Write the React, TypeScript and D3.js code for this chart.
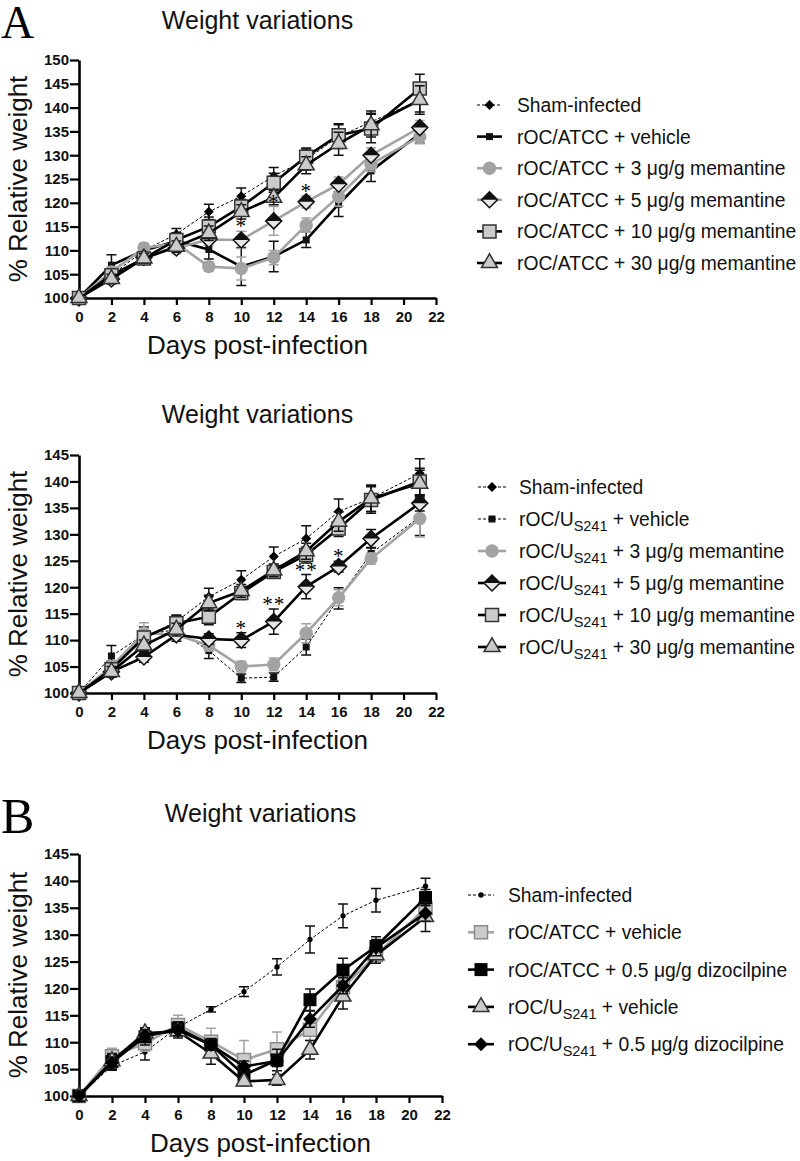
import React, { useEffect, useRef } from 'react';
import * as d3 from 'd3';

// days post-infection
const DAYS = [0, 2, 4, 6, 8, 10, 12, 14, 16, 18, 21];
const X_TICKS = [0, 2, 4, 6, 8, 10, 12, 14, 16, 18, 20, 22];
const Y_TICKS_150 = [100, 105, 110, 115, 120, 125, 130, 135, 140, 145, 150];
const Y_TICKS_145 = [100, 105, 110, 115, 120, 125, 130, 135, 140, 145];

// ---- panel A, rOC/ATCC ----
const a1Labels = [
  'Sham-infected',
  'rOC/ATCC + vehicle',
  'rOC/ATCC + 3 μg/g memantine',
  'rOC/ATCC + 5 μg/g memantine',
  'rOC/ATCC + 10 μg/g memantine',
  'rOC/ATCC + 30 μg/g memantine',
];
const a1Sham = [100, 104.8, 110, 113.4, 118.1, 121.4, 125.6, 129.1, 133.9, 137, 141.6];
const a1ShamErr = [0, 1, 0.8, 1.2, 1.6, 1.7, 1.8, 2.2, 2.5, 2.3, 2.5];
const a1Vehicle = [100, 106.9, 110, 112, 110.2, 106.6, 108.7, 112.2, 119.7, 126.7, 134.5];
const a1VehicleErr = [0, 2.2, 1, 1.5, 2, 4, 3.2, 1.6, 2.6, 2.2, 2];
const a1Mem3 = [100, 105.5, 110.5, 111.5, 106.6, 106.2, 108.5, 115.3, 121.3, 128.1, 133.9];
const a1Mem3Err = [0, 1, 1, 1.2, 1, 2.4, 1.5, 1.5, 2, 1.5, 1.5];
const a1Mem5 = [100, 104, 108.5, 110.5, 112.3, 112.2, 116.2, 120.2, 123.9, 130, 135.8];
const a1Mem5Err = [0, 1, 1, 1.2, 1.2, 1.8, 3, 1.3, 1.5, 1.5, 1.5];
const a1Mem10 = [100, 104.8, 108.3, 112.2, 115, 119.2, 124.2, 129.7, 134.2, 135.6, 144];
const a1Mem10Err = [0, 1, 1, 1.5, 2, 1.5, 2, 1.8, 2.4, 3, 3];
const a1Mem30 = [100, 104, 108.3, 110.8, 113.6, 118.1, 121.1, 127.9, 132.4, 136.3, 141.6];
const a1Mem30Err = [0, 1, 1, 1.2, 1.5, 1.5, 1.5, 1.8, 2.4, 2.5, 3];
const a1StarDays = [10, 12, 14];
const a1StarText = ['*', '*', '*'];

// ---- panel A, rOC/US241 ----
const a2Labels = [
  'Sham-infected',
  'rOC/U_S241 + vehicle',
  'rOC/U_S241 + 3 μg/g memantine',
  'rOC/U_S241 + 5 μg/g memantine',
  'rOC/U_S241 + 10 μg/g memantine',
  'rOC/U_S241 + 30 μg/g memantine',
];
const a2Sham = [100, 105, 110.5, 113.5, 118.2, 121.4, 125.8, 129.2, 134.3, 136.8, 141.5];
const a2ShamErr = [0, 1, 1, 1.2, 1.6, 1.7, 1.8, 2.4, 2.4, 2.5, 2.8];
const a2Vehicle = [100, 107, 111, 112, 108, 102.8, 103, 108.7, 117.9, 126.4, 133.3];
const a2VehicleErr = [0, 2, 1.5, 1.2, 1.5, 0.8, 0.8, 1.5, 2, 1, 3.5];
const a2Mem3 = [100, 105, 111.3, 111, 109, 105, 105.4, 111.3, 118, 125.4, 133];
const a2Mem3Err = [0, 1, 2, 1.2, 1, 1, 1.2, 1.8, 1.5, 1, 3.5];
const a2Mem5 = [100, 104, 106.8, 111, 110.2, 110, 113.5, 120.1, 123.9, 129.2, 135.9];
const a2Mem5Err = [0, 1, 1, 1.2, 1, 1.4, 2.4, 2.3, 1, 1.7, 1.5];
const a2Mem10 = [100, 104.5, 110.5, 113.2, 114.4, 118.9, 122.9, 126.1, 131.1, 136.5, 140];
const a2Mem10Err = [0, 1, 1, 1.5, 1.5, 1.2, 1.2, 1.5, 1.5, 2.5, 2.5];
const a2Mem30 = [100, 104, 109, 112, 117, 119.3, 123.2, 126.8, 132.4, 136.8, 139.6];
const a2Mem30Err = [0, 1, 1, 1.2, 1.5, 1.2, 1.2, 1.5, 1.8, 2.5, 2.5];
const a2StarDays = [10, 12, 14, 16];
const a2StarText = ['*', '**', '**', '*'];

// ---- panel B, dizocilpine ----
const bLabels = [
  'Sham-infected',
  'rOC/ATCC + vehicle',
  'rOC/ATCC + 0.5 μg/g dizocilpine',
  'rOC/U_S241 + vehicle',
  'rOC/U_S241 + 0.5 μg/g dizocilpine',
];
const bSham = [100, 105.6, 108.2, 112.8, 116.1, 119.4, 124, 129.1, 133.5, 136.4, 139];
const bShamErr = [0, 0.8, 1.5, 0.8, 0.5, 0.9, 1.5, 2.5, 2.2, 2.2, 1.5];
const bAtccVeh = [100, 107.4, 109.8, 113.2, 110.1, 106.7, 108.7, 112.3, 120.2, 126.2, 134.9];
const bAtccVehErr = [0, 1.5, 1.5, 1.8, 2.5, 3.6, 3.2, 2, 1.5, 1.5, 2];
const bAtccDizo = [100, 106.4, 111, 112.6, 109.5, 103.9, 106.7, 117.9, 123.4, 127.8, 136.9];
const bAtccDizoErr = [0, 1.5, 1.5, 1.2, 1.2, 1, 2, 2, 2.2, 1.8, 1.5];
const bUVeh = [100, 106.5, 111.7, 112, 107.9, 102.7, 103, 108.6, 118.5, 126.2, 133.3];
const bUVehErr = [0, 1.2, 1, 1.2, 2, 0.8, 1, 1.7, 2.3, 1.5, 2.7];
const bUDizo = [100, 106.2, 111.3, 112.2, 109.5, 105.5, 106.5, 114.3, 120.5, 127.6, 134];
const bUDizoErr = [0, 1, 1, 1, 1, 1, 1, 1.5, 1.5, 1.5, 1.5];

const GREY = '#a3a3a3';
const LIGHT = '#cbcbcb';
const SANS = '"Liberation Sans", Arial, sans-serif';
const SERIF = '"Liberation Serif", "Times New Roman", serif';

type Mk = 'dia-s' | 'sq-s' | 'circle' | 'half-dia' | 'square' | 'square-g' | 'triangle' | 'dot' | 'diamond' | 'sq-b';
type Ln = 'dash' | 'black' | 'grey';
interface Series { label: string; values: number[]; err: number[]; line: Ln; marker: Mk; }

const mk = (label: string, values: number[], err: number[], line: Ln, marker: Mk): Series =>
  ({ label, values, err, line, marker });

const PANELS = [
  {
    letter: 'A', letterSize: 46, letterY: 38, titleY: 29,
    top: 60, bottom: 298, left: 79, right: 436, yTicks: Y_TICKS_150,
    series: [
      mk(a1Labels[0], a1Sham, a1ShamErr, 'dash', 'dia-s'),
      mk(a1Labels[1], a1Vehicle, a1VehicleErr, 'black', 'sq-s'),
      mk(a1Labels[2], a1Mem3, a1Mem3Err, 'grey', 'circle'),
      mk(a1Labels[3], a1Mem5, a1Mem5Err, 'grey', 'half-dia'),
      mk(a1Labels[4], a1Mem10, a1Mem10Err, 'black', 'square'),
      mk(a1Labels[5], a1Mem30, a1Mem30Err, 'black', 'triangle'),
    ],
    starSeries: 3, starDays: a1StarDays, starText: a1StarText,
    legend: { y0: 105, step: 31.6, x0: 477, x1: 502, tx: 517 },
  },
  {
    letter: '', letterSize: 46, letterY: 0, titleY: 423,
    top: 455, bottom: 693, left: 79, right: 436, yTicks: Y_TICKS_145,
    series: [
      mk(a2Labels[0], a2Sham, a2ShamErr, 'dash', 'dia-s'),
      mk(a2Labels[1], a2Vehicle, a2VehicleErr, 'dash', 'sq-s'),
      mk(a2Labels[2], a2Mem3, a2Mem3Err, 'grey', 'circle'),
      mk(a2Labels[3], a2Mem5, a2Mem5Err, 'black', 'half-dia'),
      mk(a2Labels[4], a2Mem10, a2Mem10Err, 'black', 'square'),
      mk(a2Labels[5], a2Mem30, a2Mem30Err, 'black', 'triangle'),
    ],
    starSeries: 3, starDays: a2StarDays, starText: a2StarText,
    legend: { y0: 487, step: 32, x0: 478, x1: 506, tx: 519 },
  },
  {
    letter: 'B', letterSize: 50, letterY: 833, titleY: 822,
    top: 854, bottom: 1096, left: 79, right: 442, yTicks: Y_TICKS_145,
    series: [
      mk(bLabels[0], bSham, bShamErr, 'dash', 'dot'),
      mk(bLabels[1], bAtccVeh, bAtccVehErr, 'grey', 'square-g'),
      mk(bLabels[2], bAtccDizo, bAtccDizoErr, 'black', 'sq-b'),
      mk(bLabels[3], bUVeh, bUVehErr, 'black', 'triangle'),
      mk(bLabels[4], bUDizo, bUDizoErr, 'black', 'diamond'),
    ],
    starSeries: -1, starDays: [] as number[], starText: [] as string[],
    legend: { y0: 895, step: 37.3, x0: 468, x1: 494, tx: 508 },
  },
];

function drawMarker(g: any, m: Mk, cx: number, cy: number) {
  const dia = (r: number) => `M${cx},${cy - r}L${cx + r},${cy}L${cx},${cy + r}L${cx - r},${cy}Z`;
  const sym = (type: any, size: number) =>
    g.append('path').attr('d', d3.symbol().type(type).size(size)()).attr('transform', `translate(${cx},${cy})`);
  switch (m) {
    case 'dia-s':
      g.append('path').attr('d', dia(5)).attr('fill', '#000');
      break;
    case 'sq-s':
      sym(d3.symbolSquare, 49).attr('fill', '#111');
      break;
    case 'circle':
      sym(d3.symbolCircle, 140).attr('fill', GREY);
      break;
    case 'half-dia': {
      const r = 8;
      g.append('path').attr('d', dia(r)).attr('fill', '#e6e6e6').attr('stroke', '#111').attr('stroke-width', 1.5);
      g.append('path').attr('d', `M${cx - r},${cy}L${cx},${cy - r}L${cx + r},${cy}Z`).attr('fill', '#111');
      break;
    }
    case 'square':
      sym(d3.symbolSquare, 169).attr('fill', LIGHT).attr('stroke', '#333').attr('stroke-width', 1.5);
      break;
    case 'square-g':
      sym(d3.symbolSquare, 169).attr('fill', LIGHT).attr('stroke', '#8a8a8a').attr('stroke-width', 1.5);
      break;
    case 'triangle':
      sym(d3.symbolTriangle, 110).attr('fill', LIGHT).attr('stroke', '#333').attr('stroke-width', 1.5);
      break;
    case 'dot':
      sym(d3.symbolCircle, 22).attr('fill', '#000');
      break;
    case 'diamond':
      g.append('path').attr('d', dia(7)).attr('fill', '#000');
      break;
    case 'sq-b':
      sym(d3.symbolSquare, 169).attr('fill', '#000');
      break;
  }
}

function styleLine(sel: any, ln: Ln) {
  if (ln === 'dash') sel.attr('stroke', '#000').attr('stroke-width', 1).attr('stroke-dasharray', '3,2');
  else if (ln === 'grey') sel.attr('stroke', GREY).attr('stroke-width', 2.6);
  else sel.attr('stroke', '#000').attr('stroke-width', 2.6);
  return sel;
}

function writeLabel(t: any, label: string) {
  const parts = label.split('_S241');
  t.append('tspan').text(parts[0]);
  if (parts.length > 1) {
    t.append('tspan').attr('font-size', 14.5).attr('dy', 5).text('S241');
    t.append('tspan').attr('dy', -5).text(parts[1]);
  }
}

function drawPanel(svg: any, p: typeof PANELS[number]) {
  const x = d3.scaleLinear().domain([0, 22]).range([p.left, p.right]);
  const yMax = p.yTicks[p.yTicks.length - 1];
  const y = d3.scaleLinear().domain([100, yMax]).range([p.bottom, p.top]);
  const g = svg.append('g');

  if (p.letter) {
    g.append('text').attr('x', 1).attr('y', p.letterY).attr('font-family', SERIF)
      .attr('font-size', p.letterSize).attr('fill', '#000').text(p.letter);
  }
  const cx = (p.left + p.right) / 2;
  g.append('text').attr('x', cx).attr('y', p.titleY).attr('text-anchor', 'middle')
    .attr('font-family', SANS).attr('font-size', 25).attr('fill', '#111').text('Weight variations');

  // axes
  const yAx = g.append('g').attr('transform', `translate(${p.left},0)`)
    .call(d3.axisLeft(y).tickValues(p.yTicks).tickSize(9).tickSizeOuter(0).tickPadding(1).tickFormat(d3.format('d')));
  const xAx = g.append('g').attr('transform', `translate(0,${p.bottom})`)
    .call(d3.axisBottom(x).tickValues(X_TICKS).tickSize(7).tickSizeOuter(0).tickPadding(6).tickFormat(d3.format('d')));
  [yAx, xAx].forEach((a: any) => {
    a.attr('font-family', SANS).attr('font-size', 15).attr('font-weight', 'bold');
    a.select('.domain').attr('stroke', '#000').attr('stroke-width', 2.6);
    a.selectAll('.tick line').attr('stroke', '#000').attr('stroke-width', 2.2);
    a.selectAll('.tick text').attr('fill', '#111');
  });

  g.append('text').attr('transform', `translate(27,${(p.top + p.bottom) / 2}) rotate(-90)`)
    .attr('text-anchor', 'middle').attr('font-family', SANS).attr('font-size', 26).attr('fill', '#111')
    .text('% Relative weight');
  g.append('text').attr('x', cx).attr('y', p.bottom + 56).attr('text-anchor', 'middle')
    .attr('font-family', SANS).attr('font-size', 26).attr('fill', '#111').text('Days post-infection');

  // series
  const line = d3.line<number>().x((_, i) => x(DAYS[i])).y((v) => y(v));
  p.series.forEach((s) => {
    const sg = g.append('g');
    styleLine(sg.append('path').attr('d', line(s.values)).attr('fill', 'none').attr('stroke-linejoin', 'round'), s.line);
    const ec = s.line === 'grey' ? GREY : '#111';
    s.values.forEach((v, i) => {
      const e = s.err[i];
      if (!e) return;
      const px = x(DAYS[i]);
      sg.append('path')
        .attr('d', `M${px},${y(v - e)}V${y(v + e)}M${px - 5},${y(v + e)}H${px + 5}M${px - 5},${y(v - e)}H${px + 5}`)
        .attr('stroke', ec).attr('stroke-width', 1.5).attr('fill', 'none');
    });
    s.values.forEach((v, i) => drawMarker(sg, s.marker, x(DAYS[i]), y(v)));
  });

  // significance stars
  if (p.starSeries >= 0) {
    const s = p.series[p.starSeries];
    p.starDays.forEach((d, k) => {
      const i = DAYS.indexOf(d);
      const top = y(s.values[i] + s.err[i]);
      g.append('text').attr('x', x(d)).attr('y', top + 2).attr('text-anchor', 'middle')
        .attr('font-family', SERIF).attr('font-size', 21).attr('fill', '#000')
        .attr('letter-spacing', 1).text(p.starText[k]);
    });
  }

  // legend
  const L = p.legend;
  p.series.forEach((s, i) => {
    const ly = L.y0 + i * L.step;
    const lg = g.append('g');
    styleLine(lg.append('path').attr('d', `M${L.x0},${ly}H${L.x1}`), s.line);
    drawMarker(lg, s.marker, (L.x0 + L.x1) / 2, ly);
    const t = lg.append('text').attr('x', L.tx).attr('y', ly + 7).attr('font-family', SANS)
      .attr('font-size', 19.3).attr('fill', '#111');
    writeLabel(t, s.label);
  });
}

export default function App() {
  const ref = useRef<SVGSVGElement>(null);
  useEffect(() => {
    const svg = d3.select(ref.current);
    svg.selectAll('*').remove();
    PANELS.forEach((p) => drawPanel(svg, p));
  }, []);
  return (
    <svg ref={ref} width={800} height={1161}
      style={{ position: 'absolute', left: 0, top: 0, background: '#fff' }} />
  );
}
